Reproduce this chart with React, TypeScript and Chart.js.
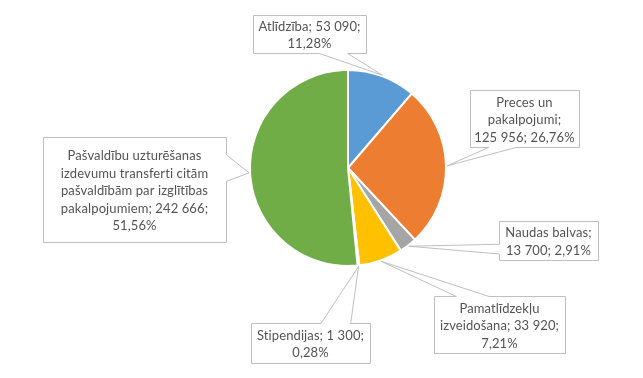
import { useEffect, useRef } from "react";
import { Chart, registerables } from "chart.js";

Chart.register(...registerables);

const categories = [
  "Atlīdzība",
  "Preces un pakalpojumi",
  "Naudas balvas",
  "Pamatlīdzekļu izveidošana",
  "Stipendijas",
  "Pašvaldību uzturēšanas izdevumu transferti citām pašvaldībām par izglītības pakalpojumiem",
];
const values = [53090, 125956, 13700, 33920, 1300, 242666];
const colors = ["#5B9BD5", "#ED7D31", "#A5A5A5", "#FFC000", "#4472C4", "#70AD47"];

// layout: how many words go on each line of each callout
const lineWordCounts = [
  [2, 1],
  [2, 1, 2],
  [2, 2],
  [1, 2, 1],
  [2, 1],
  [2, 3, 3, 2, 1],
];
// layout: callout box rectangles
const calloutBoxes = [
  { x: 253, y: 15, w: 113, h: 38 },
  { x: 470, y: 90, w: 109, h: 57 },
  { x: 499, y: 221, w: 99, h: 39 },
  { x: 434, y: 296, w: 131, h: 57 },
  { x: 251, y: 323, w: 119, h: 40 },
  { x: 43, y: 137, w: 183, h: 105 },
];

const total = values.reduce((a, b) => a + b, 0);
const fmtNum = (n: number) => String(n).replace(/\B(?=(\d{3})+(?!\d))/g, "\u00A0");
const fmtPct = (v: number) => ((v / total) * 100).toFixed(2).replace(".", ",") + "%";

function buildLines(i: number): string[] {
  const text = `${categories[i]}; ${fmtNum(values[i])}; ${fmtPct(values[i])}`;
  const words = text.split(" ");
  const lines: string[] = [];
  let k = 0;
  for (const c of lineWordCounts[i]) {
    lines.push(words.slice(k, k + c).join(" ").replace(/\u00A0/g, " "));
    k += c;
  }
  return lines;
}

const calloutPlugin = {
  id: "callouts",
  afterDraw(chart: any) {
    const ctx = chart.ctx as CanvasRenderingContext2D;
    const meta = chart.getDatasetMeta(0);
    meta.data.forEach((arc: any, i: number) => {
      const p = arc.getProps(["x", "y", "startAngle", "endAngle", "outerRadius"], true);
      const mid = (p.startAngle + p.endAngle) / 2;
      const tx = p.x + Math.cos(mid) * (p.outerRadius + 1);
      const ty = p.y + Math.sin(mid) * (p.outerRadius + 1);
      const b = calloutBoxes[i];
      const x0 = b.x + 0.5, y0 = b.y + 0.5, x1 = b.x + b.w + 0.5, y1 = b.y + b.h + 0.5;
      let side: string;
      if (ty > y1) side = "bottom";
      else if (ty < y0) side = "top";
      else if (tx < x0) side = "left";
      else side = "right";
      ctx.save();
      ctx.beginPath();
      if (side === "bottom" || side === "top") {
        const low = tx < (x0 + x1) / 2;
        const a = x0 + b.w * (low ? 2 / 12 : 7 / 12);
        const c = x0 + b.w * (low ? 5 / 12 : 10 / 12);
        if (side === "bottom") {
          ctx.moveTo(x0, y0); ctx.lineTo(x1, y0); ctx.lineTo(x1, y1);
          ctx.lineTo(c, y1); ctx.lineTo(tx, ty); ctx.lineTo(a, y1); ctx.lineTo(x0, y1);
        } else {
          ctx.moveTo(x0, y0); ctx.lineTo(a, y0); ctx.lineTo(tx, ty); ctx.lineTo(c, y0);
          ctx.lineTo(x1, y0); ctx.lineTo(x1, y1); ctx.lineTo(x0, y1);
        }
      } else {
        const low = ty < (y0 + y1) / 2;
        const a = y0 + b.h * (low ? 2 / 12 : 7 / 12);
        const c = y0 + b.h * (low ? 5 / 12 : 10 / 12);
        if (side === "right") {
          ctx.moveTo(x0, y0); ctx.lineTo(x1, y0); ctx.lineTo(x1, a); ctx.lineTo(tx, ty);
          ctx.lineTo(x1, c); ctx.lineTo(x1, y1); ctx.lineTo(x0, y1);
        } else {
          ctx.moveTo(x0, y0); ctx.lineTo(x1, y0); ctx.lineTo(x1, y1); ctx.lineTo(x0, y1);
          ctx.lineTo(x0, c); ctx.lineTo(tx, ty); ctx.lineTo(x0, a);
        }
      }
      ctx.closePath();
      ctx.fillStyle = "#ffffff";
      ctx.fill();
      ctx.strokeStyle = "#BFBFBF";
      ctx.lineWidth = 1;
      ctx.stroke();

      const lines = buildLines(i);
      const lh = 17.5;
      ctx.font = "13px Lato";
      (ctx as any).letterSpacing = "0.1px";
      ctx.fillStyle = "#545454";
      ctx.textAlign = "center";
      ctx.textBaseline = "middle";
      const cx = b.x + b.w / 2;
      const cy = b.y + b.h / 2 + 1.5;
      const start = cy - ((lines.length - 1) / 2) * lh;
      lines.forEach((ln, j) => ctx.fillText(ln, cx, start + j * lh));
      ctx.restore();
    });
  },
};

export default function App() {
  const ref = useRef<HTMLCanvasElement | null>(null);
  useEffect(() => {
    if (!ref.current) return;
    const chart = new Chart(ref.current, {
      type: "pie",
      data: {
        labels: categories,
        datasets: [
          {
            data: values,
            backgroundColor: colors,
            borderColor: "#ffffff",
            borderWidth: 2,
          },
        ],
      },
      options: {
        responsive: false,
        animation: false,
        events: [],
        layout: { padding: { left: 249, right: 196, top: 69, bottom: 111 } },
        plugins: { legend: { display: false }, tooltip: { enabled: false } },
      },
      plugins: [calloutPlugin],
    });
    return () => chart.destroy();
  }, []);
  return (
    <div style={{ position: "fixed", left: 0, top: 0, width: 643, height: 378, background: "#fff" }}>
      <canvas ref={ref} width={643} height={378} style={{ width: 643, height: 378 }} />
    </div>
  );
}
